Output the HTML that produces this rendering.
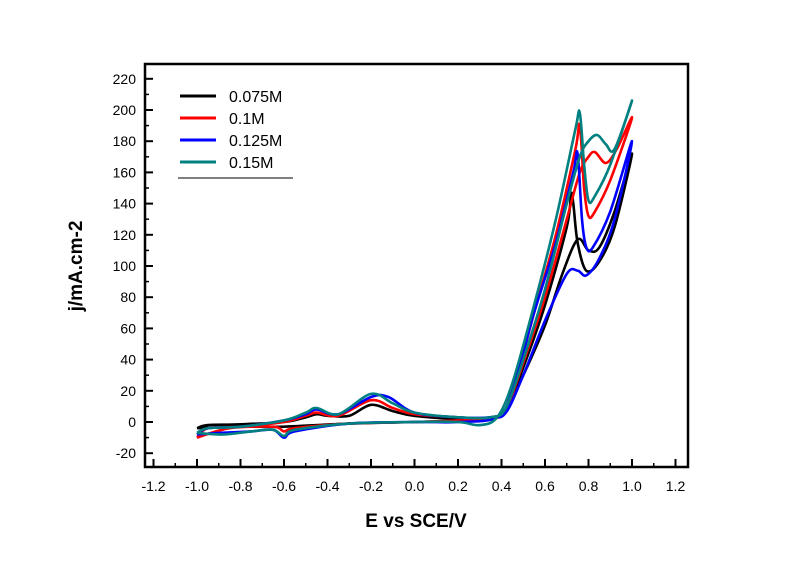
<!DOCTYPE html>
<html><head><meta charset="utf-8"><style>
body{margin:0;background:#fff;}
svg{display:block;font-family:"Liberation Sans",Arial,sans-serif;}
</style></head><body>
<svg id="chart" width="800" height="564" viewBox="0 0 800 564">
<rect width="800" height="564" fill="#fff"/>
<g id="axes"></g>
<g id="series"></g>
<g id="legend"></g>
<text x="416" y="527" text-anchor="middle" font-size="19" font-weight="bold">E vs SCE/V</text>
<text transform="translate(82,266) rotate(-90)" text-anchor="middle" font-size="19" font-weight="bold">j/mA.cm-2</text>
</svg>
<script>
const xTicks=[-1.2,-1.0,-0.8,-0.6,-0.4,-0.2,0.0,0.2,0.4,0.6,0.8,1.0,1.2];
const yTicks=[-20,0,20,40,60,80,100,120,140,160,180,200,220];
const seriesNames=["0.075M","0.1M","0.125M","0.15M"];
const seriesColors=["#000000","#ff0000","#0000ff","#008080"];
const e075=[-1,-0.95,-0.8,-0.6,-0.5,-0.45,-0.4,-0.3,-0.2,-0.1,0,0.2,0.35,0.42,0.5,0.6,0.68,0.75,0.8,0.85,0.92,1.0,0.92,0.85,0.79,0.75,0.73,0.72,0.7,0.6,0.5,0.42,0.35,0.2,0,-0.3,-0.6,-0.8,-1.0];
const j075=[-4,-2,-1.5,0,3,5,4,4,11,7,4,2,2,8,30,62,95,117,110,112,135,172,125,103,97,115,140,146,125,75,35,8,3,1,0,-1,-3,-3,-4];
const e100=[-1,-0.95,-0.8,-0.6,-0.5,-0.45,-0.35,-0.2,-0.1,0,0.2,0.35,0.42,0.5,0.6,0.7,0.76,0.8,0.83,0.88,0.93,1.0,0.9,0.83,0.8,0.78,0.76,0.74,0.65,0.55,0.45,0.38,0.2,0,-0.3,-0.55,-0.6,-0.65,-0.85,-1];
const j100=[-10,-4,-3,0,4,6,4,14,9,5,3,2,8,38,80,130,160,170,173,166,175,195,155,135,132,150,190,175,120,70,20,3,1,0,-1,-4,-6,-3,-4,-10];
const e125=[-1,-0.95,-0.8,-0.6,-0.5,-0.45,-0.35,-0.2,-0.12,0,0.2,0.35,0.42,0.5,0.6,0.7,0.75,0.79,0.85,0.92,1.0,0.9,0.82,0.79,0.77,0.75,0.73,0.65,0.55,0.45,0.38,0.2,0,-0.3,-0.55,-0.6,-0.65,-0.75,-0.9,-1];
const j125=[-8,-4,-3,1,5,8,5,16,16,6,3,3,6,30,65,95,97,94,105,130,180,135,112,112,130,172,160,115,70,20,3,0,0,-1,-6,-10,-5,-6,-7,-8];
const e150=[-1,-0.95,-0.8,-0.6,-0.5,-0.45,-0.35,-0.2,-0.1,0,0.2,0.35,0.42,0.5,0.6,0.7,0.76,0.8,0.84,0.88,0.92,1,0.9,0.83,0.8,0.78,0.76,0.74,0.65,0.55,0.45,0.38,0.3,0.2,0,-0.3,-0.55,-0.6,-0.65,-0.75,-0.88,-1];
const j150=[-7,-4,-3,1,6,9,5,18,12,6,3,3,9,40,85,140,170,180,184,178,175,206,165,145,142,165,198,188,130,75,25,3,-2,0,0,-1,-5,-9,-5,-6,-8,-7];
const eData=[e075,e100,e125,e150];
const jData=[j075,j100,j125,j150];

const NS="http://www.w3.org/2000/svg";
const X0=145,X1=688,Y0=64,Y1=467;
const xs=v=>414.5+v*217.5;
const ys=v=>422-v*1.56;
function mk(tag,attrs,parent){const el=document.createElementNS(NS,tag);for(const k in attrs)el.setAttribute(k,attrs[k]);parent.appendChild(el);return el;}
const axes=document.getElementById('axes');
const frame=mk('rect',{x:X0,y:Y0,width:X1-X0,height:Y1-Y0,fill:'none',stroke:'#000','stroke-width':2.5},axes);


xTicks.forEach((t,i)=>{
  const x=xs(t);
  const tk=mk('line',{x1:x,x2:x,y1:Y1,y2:Y1-8,stroke:'#000','stroke-width':2},axes);
  
  
  if(i<xTicks.length-1){const m=xs(t+0.1);const mt=mk('line',{x1:m,x2:m,y1:Y1,y2:Y1-4,stroke:'#000','stroke-width':1.5},axes);
  
  }
  const lb=mk('text',{x:x,y:Y1+24,'text-anchor':'middle','font-size':14},axes);
  lb.textContent=t.toFixed(1);
  
  
});
yTicks.forEach((t,i)=>{
  const y=ys(t);
  const tk=mk('line',{x1:X0,x2:X0+8,y1:y,y2:y,stroke:'#000','stroke-width':2},axes);
  
  
  if(i<yTicks.length-1){const m=ys(t+10);const mt=mk('line',{x1:X0,x2:X0+4,y1:m,y2:m,stroke:'#000','stroke-width':1.5},axes);
  
  }
  const lb=mk('text',{x:X0-9,y:y+5,'text-anchor':'end','font-size':14},axes);
  lb.textContent=String(t);
  
  
});
function smoothPath(pts){
  let d='M'+pts[0][0].toFixed(1)+','+pts[0][1].toFixed(1);
  for(let i=0;i<pts.length-1;i++){
    const p0=pts[i-1]||pts[i],p1=pts[i],p2=pts[i+1],p3=pts[i+2]||p2;
    const c1=[p1[0]+(p2[0]-p0[0])/6,p1[1]+(p2[1]-p0[1])/6];
    const c2=[p2[0]-(p3[0]-p1[0])/6,p2[1]-(p3[1]-p1[1])/6];
    d+='C'+c1.map(v=>v.toFixed(1)).join(',')+' '+c2.map(v=>v.toFixed(1)).join(',')+' '+p2[0].toFixed(1)+','+p2[1].toFixed(1);
  }
  return d;
}
const sg=document.getElementById('series');
eData.forEach((E,s)=>{
  const pts=E.map((e,i)=>[xs(e),ys(jData[s][i])]);
  const p=mk('path',{d:smoothPath(pts),fill:'none',stroke:seriesColors[s],'stroke-width':2.6,'stroke-linejoin':'round'},sg);
  
  
});
const lg=document.getElementById('legend');
seriesNames.forEach((n,i)=>{
  const y=96+i*22;
  const l=mk('line',{x1:180,x2:216,y1:y,y2:y,stroke:seriesColors[i],'stroke-width':3},lg);
  
  
  const t=mk('text',{x:229,y:y+6,'font-size':16},lg);
  t.textContent=n;
  
  
});
const ul=mk('line',{x1:178,x2:293,y1:178,y2:178,stroke:'#000','stroke-width':1},lg);


</script>
</body></html>
